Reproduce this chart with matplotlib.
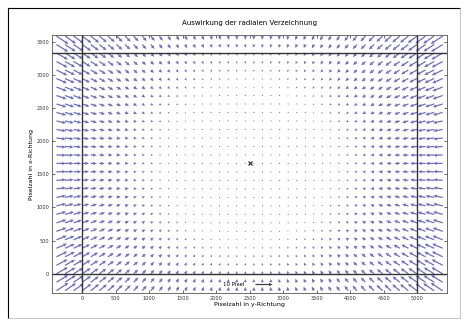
import numpy as np
import matplotlib
matplotlib.use("Agg")
import matplotlib.pyplot as plt
from matplotlib.lines import Line2D

# sensor / image geometry (pixel)
sensor_w = 4992
sensor_h = 3328
center = (2496, 1664)

# grid of sample points (pixel)
grid_x = np.arange(-384, 5377, 128)
grid_y = np.arange(-256, 3585, 128)

# distortion coefficients (corner shift ~12 px)
k1 = -5.5e-7
k2 = -1.3e-14

xticks = [0, 500, 1000, 1500, 2000, 2500, 3000, 3500, 4000, 4500, 5000]
yticks = [0, 500, 1000, 1500, 2000, 2500, 3000, 3500]

X, Y = np.meshgrid(grid_x, grid_y)
dx = X - center[0]
dy = Y - center[1]
r = np.sqrt(dx ** 2 + dy ** 2)
f = k1 * r + k2 * r ** 3
U = f * dx
V = f * dy

fig = plt.figure(figsize=(4.67, 3.27), dpi=100)
ax = fig.add_axes([52 / 467, 34 / 327, 395 / 467, 258 / 327])

col = "#5656ac"
q = ax.quiver(X, Y, U, V, color=col, angles="xy", scale_units="xy",
              scale=1 / 25.5, width=0.0032, headwidth=2.8, headlength=3.0,
              headaxislength=2.7, alpha=0.85)

# sensor border
for xv in (0, sensor_w):
    ax.axvline(xv, color="#333333", lw=1.0)
for yv in (0, sensor_h):
    ax.axhline(yv, color="#333333", lw=1.0)

ax.plot(center[0], center[1], "x", color="#222222", ms=3, mew=0.8)

ax.quiverkey(q, 0.545, 0.131, 10, "10 Pixel", labelpos="W",
             coordinates="figure", color="#222222",
             fontproperties={"size": 4})

ax.set_xlim(-450, 5440)
ax.set_ylim(-290, 3600)
ax.set_xticks(xticks)
ax.set_yticks(yticks)
ax.tick_params(direction="in", length=2.5, width=0.5, labelsize=3.6,
               top=True, right=True, pad=2, colors="#333333")
for s in ax.spines.values():
    s.set_linewidth(0.6)
    s.set_color("#555555")

ax.set_title("Auswirkung der radialen Verzeichnung", fontsize=5, pad=7)
ax.set_xlabel("Pixelzahl in y-Richtung", fontsize=4.5, labelpad=1)
ax.set_ylabel("Pixelzahl in x-Richtung", fontsize=4.5, labelpad=2)

# outer frame of the picture
fig.add_artist(Line2D([8 / 467, 8 / 467], [9 / 327, 319 / 327], color="black", lw=0.8))
fig.add_artist(Line2D([8 / 467, 460 / 467], [319 / 327, 319 / 327], color="black", lw=0.8))
fig.add_artist(Line2D([460 / 467, 460 / 467], [9 / 327, 319 / 327], color="#bbbbbb", lw=0.6))
fig.add_artist(Line2D([8 / 467, 460 / 467], [9 / 327, 9 / 327], color="#bbbbbb", lw=0.6))

fig.savefig("out.png", dpi=100)
